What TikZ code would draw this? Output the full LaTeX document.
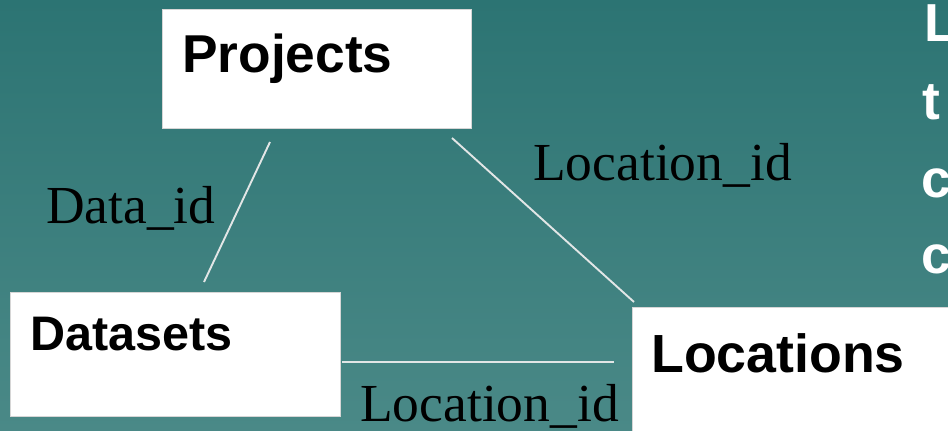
\documentclass[tikz,border=0pt]{standalone}
\usepackage{fontspec}
\setmainfont{Liberation Serif}
\newfontfamily\headfont{Liberation Sans}
\definecolor{bgtop}{RGB}{44,116,115}
\definecolor{bgbot}{RGB}{74,137,135}
\definecolor{boxedge}{RGB}{214,214,214}
\definecolor{linkcol}{RGB}{226,230,230}
\tikzset{
  entity/.style={draw=boxedge, line width=1pt, fill=white, anchor=north west,
    inner sep=0pt, outer sep=0pt},
  title/.style={anchor=base west, inner sep=0pt, font=\headfont\bfseries},
  keylabel/.style={anchor=base west, inner sep=0pt, text=black,
    font=\fontsize{53.5}{58}\selectfont},
  sidetext/.style={anchor=base west, inner sep=0pt, text=white,
    font=\headfont\bfseries\fontsize{53.5}{58}\selectfont},
  link/.style={draw=linkcol, line width=1.9pt}
}
\begin{document}
\begin{tikzpicture}[x=1pt, y=-1pt]
  \useasboundingbox (0,0) rectangle (948,431);
  \clip (0,0) rectangle (948,431);
  \shade[top color=bgtop, bottom color=bgbot] (0,0) rectangle (948,431);

  % entity boxes
  \node[entity, minimum width=309pt, minimum height=119pt] (projects) at (162,9) {};
  \node[entity, minimum width=330pt, minimum height=124pt] (datasets) at (10,292) {};
  \node[entity, minimum width=330pt, minimum height=140pt] (locations) at (632,307) {};

  % box titles
  \node[title, font=\headfont\bfseries\fontsize{53.3}{58}\selectfont] (tproj) at (182,72) {Projects};
  \node[title, font=\headfont\bfseries\fontsize{48.5}{52}\selectfont] (tdata) at (30,350) {Datasets};
  \node[title, font=\headfont\bfseries\fontsize{53.7}{58}\selectfont] (tloc) at (651,372) {Locations};

  % relationship lines
  \coordinate (p1) at (270,142);
  \coordinate (d1) at (204,282);
  \coordinate (p2) at (452,138);
  \coordinate (l2) at (634,302);
  \coordinate (d3) at (342,362);
  \coordinate (l3) at (614,362);
  \draw[link] (p1) -- (d1);
  \draw[link] (p2) -- (l2);
  \draw[link] (d3) -- (l3);

  % key labels
  \node[keylabel] (kdata) at (46,223) {Data\_id};
  \node[keylabel] (kloc1) at (533,180) {Location\_id};
  \node[keylabel] (kloc2) at (360,421) {Location\_id};

  % text running off the right edge
  \node[sidetext] (s1) at (924,41) {L};
  \node[sidetext] (s2) at (922,119) {t};
  \node[sidetext] (s3) at (921,197) {c};
  \node[sidetext] (s4) at (921,273) {c};
\end{tikzpicture}
\end{document}
